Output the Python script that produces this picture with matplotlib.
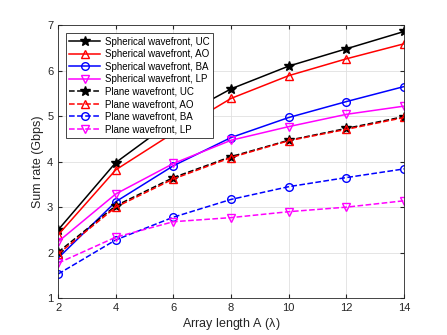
import numpy as np
import matplotlib
matplotlib.use("Agg")
import matplotlib.pyplot as plt

plt.rcParams['font.family'] = ['Liberation Sans', 'DejaVu Sans']
plt.rcParams['mathtext.fontset'] = 'custom'
plt.rcParams['mathtext.rm'] = 'Liberation Sans'
plt.rcParams['mathtext.it'] = 'Liberation Sans'

# array length A (lambda)
A = [2, 4, 6, 8, 10, 12, 14]

sph_uc = [2.50, 3.98, 4.91, 5.60, 6.10, 6.48, 6.86]
sph_ao = [2.39, 3.82, 4.63, 5.39, 5.89, 6.26, 6.59]
sph_ba = [1.88, 3.12, 3.91, 4.53, 4.97, 5.32, 5.65]
sph_lp = [2.24, 3.29, 3.96, 4.47, 4.77, 5.04, 5.22]
pln_uc = [2.01, 3.03, 3.65, 4.11, 4.47, 4.73, 4.99]
pln_ao = [1.97, 3.00, 3.62, 4.09, 4.46, 4.71, 4.97]
pln_ba = [1.53, 2.28, 2.78, 3.17, 3.45, 3.65, 3.84]
pln_lp = [1.77, 2.34, 2.68, 2.77, 2.90, 3.00, 3.14]

fig = plt.figure(figsize=(4.47, 3.35), dpi=100)
ax = fig.add_axes([0.130, 0.110, 0.774, 0.815])

lw = 1.1
ms = 5.5
ax.plot(A, sph_uc, 'k-', marker='*', ms=ms + 2, lw=lw, label='Spherical wavefront, UC')
ax.plot(A, sph_ao, 'r-', marker='^', ms=ms, mfc='none', lw=lw, label='Spherical wavefront, AO')
ax.plot(A, sph_ba, 'b-', marker='o', ms=ms, mfc='none', lw=lw, label='Spherical wavefront, BA')
ax.plot(A, sph_lp, '-', color='#ff00ff', marker='v', ms=ms, mfc='none', lw=lw, label='Spherical wavefront, LP')
ax.plot(A, pln_uc, 'k--', marker='*', ms=ms + 2, lw=lw, label='Plane wavefront, UC')
ax.plot(A, pln_ao, 'r--', marker='^', ms=ms, mfc='none', lw=lw, label='Plane wavefront, AO')
ax.plot(A, pln_ba, 'b--', marker='o', ms=ms, mfc='none', lw=lw, label='Plane wavefront, BA')
ax.plot(A, pln_lp, '--', color='#ff00ff', marker='v', ms=ms, mfc='none', lw=lw, label='Plane wavefront, LP')

ax.set_xlim(2, 14)
ax.set_ylim(1, 7)
ax.set_xticks(A)
ax.set_yticks(range(1, 8))
ax.tick_params(direction='in', labelsize=8, colors='#262626', length=3, top=True, right=True)
ax.grid(True, color='#e0e0e0', lw=0.6)
for s in ax.spines.values():
    s.set_color('#262626')
    s.set_linewidth(0.6)
ax.set_xlabel(r'Array length A ($\lambda$)', fontsize=9, color='#262626', labelpad=2)
ax.set_ylabel('Sum rate (Gbps)', fontsize=9, color='#262626', labelpad=2)

leg = ax.legend(loc='upper left', bbox_to_anchor=(0.022, 0.97), fontsize=7.0, fancybox=False,
                framealpha=1, edgecolor='#262626', borderpad=0.35, labelspacing=0.26,
                handlelength=3.2, handletextpad=0.45, borderaxespad=0)
leg.get_frame().set_linewidth(0.6)

fig.savefig('out.png', dpi=100)
